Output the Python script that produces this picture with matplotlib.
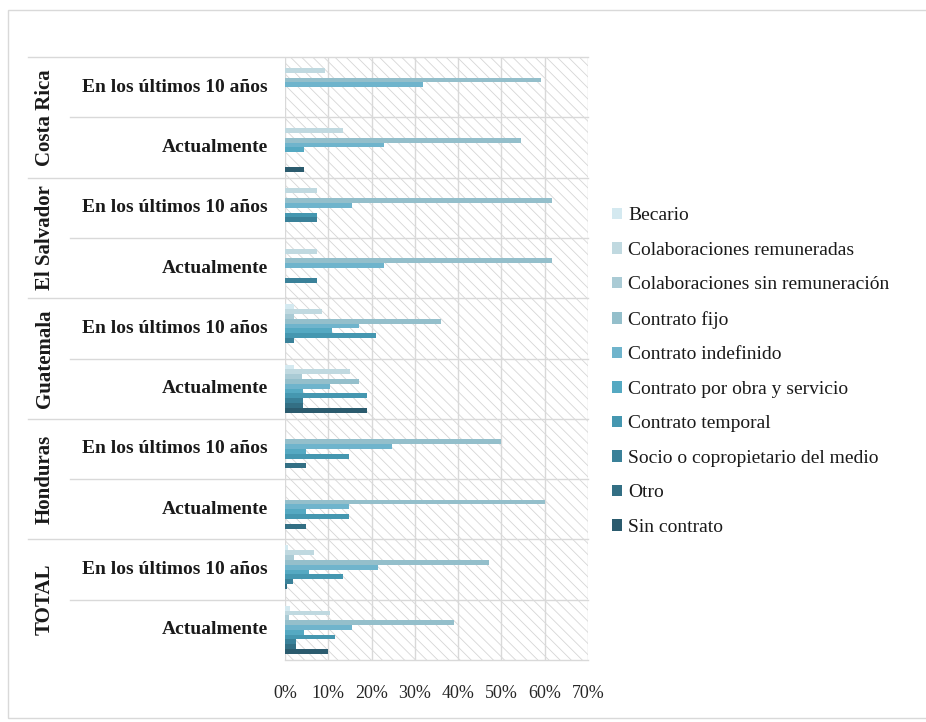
import numpy as np
import matplotlib.pyplot as plt
from matplotlib.patches import Rectangle, Patch
from matplotlib.lines import Line2D

plt.rcParams['font.family'] = ['Liberation Serif', 'DejaVu Serif']
plt.rcParams['hatch.linewidth'] = 0.6

# data (shares, %)
countries = ["Costa Rica", "El Salvador", "Guatemala", "Honduras", "TOTAL"]
periods = ["En los últimos 10 años", "Actualmente"]
series = ["Becario", "Colaboraciones remuneradas", "Colaboraciones sin remuneración",
          "Contrato fijo", "Contrato indefinido", "Contrato por obra y servicio",
          "Contrato temporal", "Socio o copropietario del medio", "Otro", "Sin contrato"]
colors = ["#d4e9f0", "#c0d9e0", "#aacbd5", "#94bfcb", "#6fb4cc", "#55a9c2",
          "#4597b0", "#3a8199", "#336f84", "#2b5b6e"]

# one row per group (country x period), one column per series
values = np.array([
    [0.0, 9.2, 0.0, 59.2, 31.9, 0.0, 0.0, 0.0, 0.0, 0.0],      # CR ult 10
    [0.0, 13.4, 0.0, 54.6, 22.8, 4.3, 0.0, 0.0, 0.0, 4.3],     # CR actual
    [0.0, 7.4, 0.0, 61.7, 15.5, 0.0, 7.4, 7.4, 0.0, 0.0],      # ES ult 10
    [0.0, 7.4, 0.0, 61.7, 22.9, 0.0, 0.0, 7.4, 0.0, 0.0],      # ES actual
    [2.0, 8.5, 2.0, 36.0, 17.0, 10.8, 21.0, 2.0, 0.0, 0.0],    # GT ult 10
    [2.0, 15.0, 4.0, 17.0, 10.4, 4.2, 19.0, 4.2, 4.2, 19.0],   # GT actual
    [0.0, 0.0, 0.0, 49.8, 24.8, 4.8, 14.9, 0.0, 4.8, 0.0],     # HN ult 10
    [0.0, 0.0, 0.0, 60.0, 14.9, 4.8, 14.9, 0.0, 4.8, 0.0],     # HN actual
    [0.8, 6.6, 2.0, 47.2, 21.5, 5.6, 13.5, 1.9, 0.5, 0.0],     # TOTAL ult 10
    [1.2, 10.4, 1.0, 39.0, 15.4, 4.3, 11.5, 2.5, 2.5, 10.0],   # TOTAL actual
])
xticks = [0, 10, 20, 30, 40, 50, 60, 70]

fig = plt.figure(figsize=(9.26, 7.22), dpi=100)
fig.patches.append(Rectangle((8 / 926, 4 / 722), 1.2, (722 - 14) / 722, transform=fig.transFigure,
                             fill=False, edgecolor="#d9d9d9", lw=1))

ax = fig.add_axes([285 / 926, (722 - 660) / 722, 303 / 926, 603 / 722])
ax.patch.set_facecolor("white")
ax.patch.set_hatch("\\\\\\")
ax.patch.set_edgecolor("#d6d6d6")

n_groups = values.shape[0]
n_series = values.shape[1]
h = 0.8 / n_series
for k in range(n_series):
    y = np.arange(n_groups) - 0.4 + h / 2 + h * k
    ax.barh(y, values[:, k], height=h, color=colors[k], zorder=3, label=series[k])

ax.set_xlim(0, 70)
ax.set_ylim(n_groups - 0.5, -0.5)
ax.set_xticks(xticks)
ax.set_xticklabels([f"{t}%" for t in xticks], fontsize=13, color="#262626")
ax.tick_params(axis="x", length=0, pad=18)
ax.set_yticks([])
for t in xticks:
    ax.axvline(t, color="#d9d9d9", lw=1, zorder=1)
for s in ax.spines.values():
    s.set_visible(False)

# group separators, running into the label area
to_fig = ax.transData
for b in np.arange(n_groups + 1) - 0.5:
    yf = fig.transFigure.inverted().transform(to_fig.transform((0, b)))[1]
    i = int(b + 0.5)
    x0 = 28 / 926 if i % 2 == 0 else 70 / 926
    if i == n_groups:
        x0 = 285 / 926
    fig.add_artist(Line2D([x0, 588 / 926], [yf, yf], color="#d9d9d9", lw=1))

# category labels
for i in range(n_groups):
    yf = fig.transFigure.inverted().transform(to_fig.transform((0, i)))[1]
    fig.text(268 / 926, yf, periods[i % 2], ha="right", va="center",
             fontsize=14, fontweight="bold", color="#1a1a1a")
for c, name in enumerate(countries):
    yf = fig.transFigure.inverted().transform(to_fig.transform((0, 2 * c + 0.5)))[1]
    fig.text(45 / 926, yf, name, ha="center", va="center", rotation=90,
             fontsize=15, fontweight="bold", color="#1a1a1a")

handles = [Patch(facecolor=colors[k], edgecolor="none") for k in range(n_series)]
fig.legend(handles, series, loc="upper left", bbox_to_anchor=(594 / 926, 1 - 190 / 722),
           frameon=False, fontsize=14, handlelength=0.55, handleheight=0.55,
           handletextpad=0.3, labelspacing=0.9, labelcolor="#1a1a1a")

fig.savefig("out.png", dpi=100)
